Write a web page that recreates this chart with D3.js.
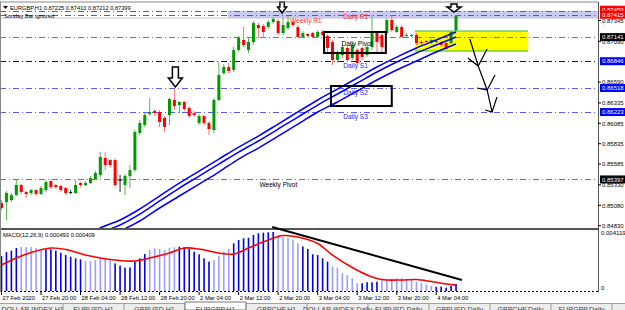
<!DOCTYPE html>
<html>
<head>
<meta charset="utf-8">
<script src="https://cdn.jsdelivr.net/npm/d3@7/dist/d3.min.js"></script>
<style>
body { margin: 0; background: #fff; }
svg { display: block; font-family: "Liberation Sans", Arial, sans-serif; }
</style>
</head>
<body>
<svg class="chart" width="625" height="310"></svg>
<script>

//
// EURGBP H1 with pivots, three blue averages and a MACD window underneath.
//

var opens  = [0.85108,0.85120,0.85145,0.85206,0.85329,0.85243,0.85231,0.85267,0.85218,0.85267,0.85378,0.85329,0.85317,0.85292,0.85243,0.85231,0.85353,0.85329,0.85353,0.85402,
              0.85451,0.85660,0.85635,0.85635,0.85390,0.85329,0.85439,0.85512,0.85966,0.86064,0.86199,0.86236,0.86224,0.86150,0.86187,0.86371,0.86309,0.86346,0.86272,0.86211,
              0.86089,0.86174,0.86089,0.86003,0.86371,0.86701,0.86775,0.86738,0.86983,0.87106,0.86983,0.87081,0.87290,0.87277,0.87265,0.87326,0.87339,0.87192,0.87253,0.87326,
              0.87265,0.87143,0.87179,0.87192,0.87143,0.87204,0.87155,0.87081,0.86861,0.86922,0.87008,0.86885,0.86983,0.87008,0.86922,0.87020,0.87192,0.87167,0.87192,0.87351,
              0.87204,0.87265,0.87155,0.87155,0.87167,0.87081,0.87094,0.87069,0.87094,0.87081,0.87069,0.87069,0.87225];
var highs  = [0.85145,0.85255,0.85231,0.85390,0.85341,0.85255,0.85280,0.85280,0.85317,0.85390,0.85402,0.85341,0.85329,0.85304,0.85267,0.85390,0.85365,0.85378,0.85439,0.85500,
              0.85733,0.85733,0.85647,0.85660,0.85451,0.85463,0.85574,0.86003,0.86125,0.86211,0.86395,0.86260,0.86248,0.86174,0.86395,0.86505,0.86358,0.86358,0.86297,0.86236,
              0.86199,0.86187,0.86113,0.86395,0.86836,0.86812,0.86824,0.87020,0.87155,0.87265,0.87130,0.87339,0.87314,0.87302,0.87351,0.87388,0.87363,0.87388,0.87400,0.87339,
              0.87290,0.87216,0.87192,0.87204,0.87228,0.87228,0.87179,0.87106,0.86983,0.87045,0.87032,0.87069,0.87008,0.87020,0.87045,0.87412,0.87216,0.87192,0.87375,0.87412,
              0.87290,0.87290,0.87192,0.87179,0.87192,0.87106,0.87106,0.87118,0.87106,0.87094,0.87081,0.87216,0.87410];
var lows   = [0.85022,0.84900,0.85120,0.85194,0.85218,0.85169,0.85206,0.85194,0.85206,0.85243,0.85280,0.85280,0.85243,0.85206,0.85218,0.85218,0.85304,0.85317,0.85341,0.85390,
              0.85427,0.85512,0.85537,0.85304,0.85243,0.85206,0.85292,0.85488,0.85941,0.86040,0.86174,0.86174,0.86040,0.85978,0.86064,0.86248,0.86211,0.86236,0.86150,0.86162,
              0.86064,0.86064,0.85941,0.85966,0.86358,0.86677,0.86701,0.86714,0.86959,0.87020,0.86947,0.87045,0.87130,0.87130,0.87241,0.87302,0.87167,0.87167,0.87228,0.87265,
              0.87130,0.87130,0.87143,0.87130,0.87130,0.87155,0.86959,0.86799,0.86824,0.86885,0.86836,0.86861,0.86799,0.86861,0.86897,0.86983,0.86959,0.86959,0.87167,0.87204,
              0.87192,0.87130,0.87130,0.87143,0.87045,0.87032,0.87069,0.87057,0.87069,0.87020,0.86983,0.87057,0.87212];
var closes = [0.85047,0.85231,0.85206,0.85329,0.85243,0.85218,0.85267,0.85218,0.85292,0.85365,0.85304,0.85304,0.85267,0.85231,0.85243,0.85329,0.85329,0.85353,0.85414,0.85476,
              0.85672,0.85574,0.85574,0.85329,0.85390,0.85439,0.85512,0.85978,0.86089,0.86187,0.86224,0.86211,0.86101,0.86040,0.86383,0.86297,0.86346,0.86260,0.86174,0.86187,
              0.86174,0.86089,0.86015,0.86371,0.86677,0.86775,0.86726,0.86983,0.87130,0.87045,0.87081,0.87314,0.87253,0.87204,0.87326,0.87363,0.87192,0.87290,0.87326,0.87290,
              0.87143,0.87192,0.87155,0.87143,0.87204,0.87167,0.87008,0.86861,0.86959,0.87020,0.86861,0.87045,0.86824,0.86897,0.87020,0.87192,0.87081,0.87020,0.87351,0.87228,
              0.87265,0.87143,0.87167,0.87167,0.87069,0.87069,0.87081,0.87106,0.87081,0.87045,0.86996,0.87204,0.87399];

// MACD(12,26,9) main values, one per bar, and the signal line read every few bars
var macdMain = [0.00244,0.00272,0.00281,0.00300,0.00307,0.00307,0.00307,0.00300,0.00293,0.00291,0.00291,0.00281,0.00267,0.00251,0.00239,0.00228,0.00221,0.00209,0.00209,0.00216,
                0.00228,0.00228,0.00221,0.00193,0.00177,0.00163,0.00165,0.00205,0.00228,0.00258,0.00286,0.00298,0.00293,0.00286,0.00302,0.00305,0.00309,0.00305,0.00293,0.00274,
                0.00256,0.00228,0.00205,0.00216,0.00246,0.00274,0.00293,0.00333,0.00356,0.00368,0.00372,0.00391,0.00403,0.00407,0.00410,0.004119,0.00391,0.00375,0.00372,0.00356,
                0.00333,0.00311,0.00293,0.00256,0.00251,0.00228,0.00205,0.00170,0.00163,0.00124,0.00112,0.00089,0.00054,0.00054,0.00061,0.00061,0.00065,0.00077,0.00082,0.00084,
                0.00089,0.00089,0.00084,0.00077,0.00065,0.00058,0.00047,0.00037,0.00030,0.00030,0.00023,0.00035,0.000493];
var macdDark = [[0,3],[9,16],[23,29],[36,42],[47,55],[61,66],[73,76],[88,92]]; // bar ranges drawn in deep blue
var signalBars = [0,3,6,10,13,17,20,23,27,30,34,37,40,44,47,50,54,57,60,64,67,71,74,77,81,84,87,90,92];
var signalVals = [0.00181,0.00230,0.00269,0.00300,0.00290,0.00251,0.00230,0.00216,0.00209,0.00230,0.00265,0.00300,0.00293,0.00265,0.00258,0.00300,0.00356,0.00387,0.00377,0.00332,
                  0.00251,0.00164,0.00112,0.00080,0.00077,0.00080,0.00066,0.00049,0.000409];

// the three blue averages, read every fourth bar
var maBars  = [16,20,24,28,32,36,40,44,48,52,56,60,64,68,72,76,80,84,88,92];
var maUpper = [0.84655,0.84802,0.84900,0.85035,0.85194,0.85353,0.85500,0.85647,0.85794,0.85929,0.86076,0.86224,0.86371,0.86505,0.86640,0.86775,0.86897,0.87008,0.87106,0.87204];
var maMid   = [0.84593,0.84741,0.84839,0.84973,0.85133,0.85292,0.85439,0.85586,0.85733,0.85868,0.86015,0.86162,0.86309,0.86444,0.86579,0.86714,0.86836,0.86947,0.87045,0.87143];
var maLower = [0.84508,0.84655,0.84765,0.84888,0.85047,0.85194,0.85341,0.85488,0.85647,0.85782,0.85929,0.86076,0.86224,0.86346,0.86481,0.86616,0.86738,0.86848,0.86959,0.87057];

var timeLabels = ["27 Feb 2020","27 Feb 20:00","28 Feb 04:00","28 Feb 12:00","28 Feb 20:00","2 Mar 04:00","2 Mar 12:00","2 Mar 20:00","3 Mar 04:00","3 Mar 12:00","3 Mar 20:00","4 Mar 04:00"];
var timeBars   = [0,8,16,24,32,40,48,56,64,72,80,88];
var priceTicks = [0.87345,0.87090,0.86590,0.86335,0.86085,0.85835,0.85585,0.85330,0.85080,0.84830];

var levelNames  = ["R1a","R1b","Daily Pivot","Daily S1","Daily S2","Daily S3","Weekly Pivot"];
var levelPrices = [0.87459,0.87415,0.87141,0.86846,0.86518,0.86223,0.85397];
var levelKinds  = ["red","red","pivot","s1","s","s","pivot"];

var tabNames = ["DOLLAR INDEX,H1","EURUSD,H1","GBPUSD,H1","EURGBP,H1","GBPCHF,H1","DOLLAR INDEX,Daily","EURUSD,Daily","GBPUSD,Daily","GBPCHF,Daily","EURGBP,Daily"];

window.onload = function () {

    var svg = d3.select("svg.chart");
    var right = 598; // price scale column starts here
    var x = d3.scaleLinear().domain([0, 92]).range([1.5, 456]); // bar index -> pixel
    var y = d3.scaleLinear().domain([0.84802, 0.87535]).range([228, 5]);
    var ym = d3.scaleLinear().domain([0, 0.004119]).range([291, 232]);

    var styles = {
        red:   {stroke: "#ff2020", label: "#ff0000"},
        pivot: {stroke: "#777", label: "#000"},
        s1:    {stroke: "#0000ff", label: "#1010ff"},
        s:     {stroke: "#5a5aff", label: "#2a2aff"}
    };

    svg.append("defs").append("clipPath").attr("id", "main")
        .append("rect").attr("x", 0).attr("y", 2).attr("width", right).attr("height", 226);
    var main = svg.append("g").attr("clip-path", "url(#main)");

    // lavender band round the weekly/daily R1
    main.append("rect")
        .attr("x", x(45.85)).attr("y", y(0.87461))
        .attr("width", right - x(45.85)).attr("height", y(0.87375) - y(0.87461))
        .attr("fill", "#c9c9f3");
    main.append("line").attr("x1", 0).attr("x2", right).attr("y1", y(0.87375)).attr("y2", y(0.87375))
        .attr("stroke", "#c8c8d8");

    // yellow zone
    main.append("rect")
        .attr("x", x(83.7)).attr("y", y(0.87216))
        .attr("width", x(106.6) - x(83.7)).attr("height", y(0.86971) - y(0.87216))
        .attr("fill", "#ffff00");
    [0.87216, 0.86971].forEach(function (p) {
        main.append("line").attr("x1", x(83.7)).attr("x2", x(106.6)).attr("y1", y(p)).attr("y2", y(p))
            .attr("stroke", "#33bb33").attr("stroke-width", 1);
    });

    // pivot lines
    main.selectAll("line.level").data(levelPrices).enter().append("line")
        .attr("class", "level")
        .attr("x1", 0).attr("x2", right)
        .attr("y1", function (p) { return Math.round(y(p)) + 0.5; })
        .attr("y2", function (p) { return Math.round(y(p)) + 0.5; })
        .attr("stroke", function (p, i) { return styles[levelKinds[i]].stroke; })
        .attr("stroke-width", 1)
        .attr("stroke-dasharray", "6,3,1,3");

    // candles
    var bars = main.selectAll("g.bar").data(opens).enter().append("g").attr("class", "bar");
    function tone(i) {
        if (closes[i] > opens[i]) return ["#009a00", "#55b855"];
        if (closes[i] < opens[i]) return ["#ff0000", "#ff7070"];
        return ["#222", "#222"];
    }
    bars.append("line")
        .attr("x1", function (d, i) { return x(i); }).attr("x2", function (d, i) { return x(i); })
        .attr("y1", function (d, i) { return y(highs[i]); }).attr("y2", function (d, i) { return y(lows[i]); })
        .attr("stroke", function (d, i) { return tone(i)[1]; }).attr("stroke-width", 1);
    bars.append("rect")
        .attr("x", function (d, i) { return x(i) - 1.5; }).attr("width", 3)
        .attr("y", function (d, i) { return y(Math.max(opens[i], closes[i])); })
        .attr("height", function (d, i) { return Math.max(1, Math.abs(y(opens[i]) - y(closes[i]))); })
        .attr("fill", function (d, i) { return tone(i)[0]; });

    // blue averages
    var maLine = d3.line().curve(d3.curveCatmullRom)
        .x(function (d, i) { return x(maBars[i]); }).y(function (d) { return y(d); });
    [maUpper, maMid, maLower].forEach(function (series) {
        main.append("path").attr("d", maLine(series))
            .attr("fill", "none").attr("stroke", "#0000ff").attr("stroke-width", 1.5);
    });

    // black boxes round Daily Pivot and Daily S2
    [[65.3, 77.8, 0.87204, 0.86947], [66.7, 79.0, 0.86542, 0.86297]].forEach(function (b) {
        main.append("rect")
            .attr("x", x(b[0])).attr("y", y(b[2]))
            .attr("width", x(b[1]) - x(b[0])).attr("height", y(b[3]) - y(b[2]))
            .attr("fill", "none").attr("stroke", "#000").attr("stroke-width", 2);
    });

    // level names on the chart
    var names = [
        {t: "Weekly R1", i: 58.4, p: 0.87314, c: "#ff3030"},
        {t: "Daily R1", i: 69.2, p: 0.87363, c: "#ff3030"},
        {t: "Daily Pivot", i: 68.8, p: 0.87032, c: "#000"},
        {t: "Daily S1", i: 69.2, p: 0.86762, c: "#2424ff"},
        {t: "Daily S2", i: 69.2, p: 0.86432, c: "#2424ff"},
        {t: "Daily S3", i: 69.2, p: 0.86138, c: "#2424ff"},
        {t: "Weekly Pivot", i: 52.2, p: 0.85304, c: "#000"}
    ];
    main.selectAll("text.name").data(names).enter().append("text")
        .attr("x", function (d) { return x(d.i); }).attr("y", function (d) { return y(d.p); })
        .attr("font-size", 6.6).attr("fill", function (d) { return d.c; })
        .text(function (d) { return d.t; });

    // hollow down arrows
    function arrow(cx, top, headTop, tip, shaft, head) {
        return "M" + (cx - shaft) + "," + top + "H" + (cx + shaft) + "V" + headTop + "H" + (cx + head) +
            "L" + cx + "," + tip + "L" + (cx - head) + "," + headTop + "H" + (cx - shaft) + "Z";
    }
    [[35.2, 0.86775, 0.86640, 0.86530, 3, 7], [56.8, 0.87572, 0.87510, 0.87437, 2.2, 4.5], [91.6, 0.87547, 0.87510, 0.87449, 3, 7]].forEach(function (a) {
        svg.append("path").attr("d", arrow(x(a[0]), y(a[1]), y(a[2]), y(a[3]), a[4], a[5]))
            .attr("fill", "#fff").attr("stroke", "#000").attr("stroke-width", 1.5).attr("stroke-linejoin", "miter");
    });

    // hand drawn path down to S3
    var sketch = [
        [[94.8, 0.87118], [96.5, 0.86787], [98.3, 0.86493], [99.3, 0.86224]],
        [[94.4, 0.86885], [96.5, 0.86787], [98.3, 0.86996]],
        [[96.3, 0.86518], [98.3, 0.86493], [99.9, 0.86677]],
        [[97.9, 0.86248], [99.3, 0.86224], [100.3, 0.86407]]
    ];
    var sketchLine = d3.line().x(function (d) { return x(d[0]); }).y(function (d) { return y(d[1]); });
    sketch.forEach(function (s) {
        main.append("path").attr("d", sketchLine(s)).attr("fill", "none").attr("stroke", "#000").attr("stroke-width", 1.2);
    });

    // title lines
    svg.append("path").attr("d", "M3,6H8L5.5,9Z").attr("fill", "#000");
    svg.append("text").attr("x", 10).attr("y", 10).attr("font-size", 5.7).attr("fill", "#000")
        .text("EURGBP,H1  0.87225 0.87410 0.87212 0.87399");
    svg.append("text").attr("x", 4).attr("y", 17.5).attr("font-size", 5.7).attr("fill", "#000")
        .text("Sunday Bar ignored");

    // MACD window
    var macd = svg.append("g");
    macd.selectAll("rect.hist").data(macdMain).enter().append("rect")
        .attr("class", "hist")
        .attr("x", function (d, i) { return x(i) - 0.8; }).attr("width", 1.6)
        .attr("y", function (d) { return ym(d); }).attr("height", function (d) { return ym(0) - ym(d); })
        .attr("fill", function (d, i) {
            var dark = macdDark.some(function (r) { return i >= r[0] && i <= r[1]; });
            return dark ? "#0000ee" : "#9d9dff";
        });
    var sigLine = d3.line().curve(d3.curveCatmullRom)
        .x(function (d, i) { return x(signalBars[i]); }).y(function (d) { return ym(d); });
    macd.append("path").attr("d", sigLine(signalVals)).attr("fill", "none").attr("stroke", "#ff0000").attr("stroke-width", 1.6);
    macd.append("line").attr("x1", 0).attr("x2", right).attr("y1", ym(0) + 0.5).attr("y2", ym(0) + 0.5)
        .attr("stroke", "#000").attr("stroke-dasharray", "2,2");
    macd.append("text").attr("x", 3).attr("y", 237).attr("font-size", 5.8).attr("fill", "#000")
        .text("MACD(12,26,9) 0.000493 0.000409");

    // frames
    svg.append("line").attr("x1", 0).attr("x2", right).attr("y1", 2).attr("y2", 2).attr("stroke", "#888");
    svg.append("rect").attr("x", 0).attr("y", 228).attr("width", right).attr("height", 2).attr("fill", "#555");
    svg.append("line").attr("x1", right + 0.5).attr("x2", right + 0.5).attr("y1", 2).attr("y2", 292).attr("stroke", "#555");
    svg.append("line").attr("x1", 0.5).attr("x2", 0.5).attr("y1", 2).attr("y2", 292).attr("stroke", "#888");

    // trend line across the MACD tops
    svg.append("path").attr("d", d3.line()([[x(54.8), ym(0.00447)], [x(93.2), ym(0.00077)]]))
        .attr("stroke", "#000").attr("stroke-width", 2);

    // price scale
    var axis = svg.append("g").attr("font-size", 6).attr("fill", "#000");
    priceTicks.forEach(function (p) {
        axis.append("line").attr("x1", right).attr("x2", right + 3).attr("y1", y(p)).attr("y2", y(p)).attr("stroke", "#000");
        axis.append("text").attr("x", 602).attr("y", y(p) + 2.2).text(p.toFixed(5));
    });
    var boxFill = {red: "#ff0000", pivot: "#000", s1: "#0000ff", s: "#0000ff"};
    levelPrices.forEach(function (p, i) {
        var yy = y(p) + (i === 0 ? -1.5 : 0);
        axis.append("rect").attr("x", 600).attr("y", yy - 4).attr("width", 25).attr("height", 8)
            .attr("fill", boxFill[levelKinds[i]]);
        axis.append("text").attr("x", 602).attr("y", yy + 2.2).attr("fill", "#fff").text(p.toFixed(5));
    });
    axis.append("text").attr("x", 601).attr("y", 234.5).text("0.004119");
    axis.append("text").attr("x", 601).attr("y", 289.5).text("0");

    // time scale
    var time = svg.append("g").attr("font-size", 5.8).attr("fill", "#000");
    timeBars.forEach(function (b, k) {
        time.append("line").attr("x1", x(b)).attr("x2", x(b)).attr("y1", 292).attr("y2", 295).attr("stroke", "#000");
        time.append("text").attr("x", x(b) + 1).attr("y", 299.5).text(timeLabels[k]);
    });

    // tab strip, only the top of it shows
    svg.append("rect").attr("x", 0).attr("y", 303).attr("width", 625).attr("height", 7).attr("fill", "#ececec");
    svg.append("line").attr("x1", 0).attr("x2", 625).attr("y1", 303.5).attr("y2", 303.5).attr("stroke", "#a0a0a0");
    var tabX = d3.scaleBand().domain(tabNames).range([2, 612]).paddingInner(0);
    tabNames.forEach(function (t) {
        var active = t === "EURGBP,H1";
        if (active) svg.append("rect").attr("x", tabX(t)).attr("y", 302).attr("width", tabX.bandwidth()).attr("height", 8).attr("fill", "#fff").attr("stroke", "#777");
        svg.append("line").attr("x1", tabX(t) + tabX.bandwidth()).attr("x2", tabX(t) + tabX.bandwidth())
            .attr("y1", 304).attr("y2", 310).attr("stroke", "#999");
        svg.append("text").attr("x", tabX(t) + tabX.bandwidth() / 2).attr("y", 312).attr("text-anchor", "middle")
            .attr("font-size", 7).attr("fill", "#444").text(t);
    });
};
</script>
</body>
</html>
